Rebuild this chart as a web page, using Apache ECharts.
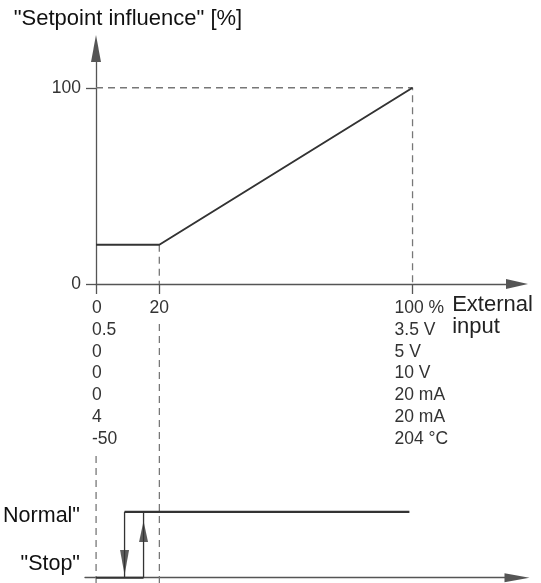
<!DOCTYPE html>
<html>
<head>
<meta charset="utf-8">
<script src="https://cdn.jsdelivr.net/npm/echarts@6/dist/echarts.min.js"></script>
<style>html,body{margin:0;padding:0;background:#fff}#c{width:541px;height:583px}</style>
</head>
<body>
<div id="c"></div>
<script>
// ---- data ----
const yAxisTitle = '"Setpoint influence" [%]';
const xAxisTitle = 'External\ninput';
const xTicks = [0, 20, 100];
const yTicks = [0, 100];
const inputCol0 = ['0', '0.5', '0', '0', '0', '4', '-50'];
const inputCol20 = ['20'];
const inputCol100 = ['100 %', '3.5 V', '5 V', '10 V', '20 mA', '20 mA', '204 °C'];
const curveX = [0, 20, 100];
const curveY = [20, 20, 100];
const stateValues = [0, 1];
const stateLabels = ['"Stop"', 'Normal"'];
const normalX = [9, 99];
const stopX = [0, 15];
const switchOffX = 9;
const switchOnX = 15;
const arrowHeadY = [0.23, 0.70];

const FONT = '"Liberation Sans", Arial, sans-serif';
const AX = '#555';
const LINE = '#333';
const DASH = '#777';
const dashStyle = { color: DASH, width: 1.3, type: [7, 5] };

const chart = echarts.init(document.getElementById('c'), null, { renderer: 'canvas' });

function colRich(arr, key) { return arr.map(s => '{' + key + '|' + s + '}').join('\n'); }

const lblBase = { fontSize: 17.5, lineHeight: 21.9, color: '#333', fontFamily: FONT };

const option = {
  animation: false,
  textStyle: { fontFamily: FONT },
  grid: [
    { left: 96, right: 24, top: 48.5, bottom: 299 },
    { left: 85, right: 24, top: 314, bottom: 0 }
  ],
  xAxis: [
    {
      gridIndex: 0, type: 'value', min: 0, max: 133,
      name: xAxisTitle, nameLocation: 'end', nameGap: -65,
      nameTextStyle: { fontSize: 22, color: '#222', align: 'left', verticalAlign: 'top', lineHeight: 22, padding: [10, 0, 0, 0], fontFamily: FONT },
      axisLine: { show: true, onZero: false, symbol: ['none', 'triangle'], symbolSize: [10, 22], lineStyle: { color: AX, width: 1.3 } },
      axisTick: { show: true, customValues: xTicks, length: 10, inside: false, lineStyle: { color: AX, width: 1.3 } },
      axisLabel: {
        show: true, customValues: xTicks, margin: 13, align: 'center', verticalAlign: 'top',
        formatter: function (v) {
          if (v === xTicks[0]) return colRich(inputCol0, 'a');
          if (v === xTicks[1]) return colRich(inputCol20, 'b');
          return colRich(inputCol100, 'c');
        },
        rich: {
          a: Object.assign({ width: 8, align: 'left' }, lblBase),
          b: Object.assign({}, lblBase),
          c: Object.assign({ width: 36, align: 'left' }, lblBase)
        }
      },
      splitLine: { show: false }
    },
    {
      gridIndex: 1, type: 'value', min: -3.5, max: 133,
      axisLine: { show: true, onZero: true, symbol: ['none', 'triangle'], symbolSize: [9, 25], lineStyle: { color: AX, width: 1.3 } },
      axisTick: { show: false }, axisLabel: { show: false }, splitLine: { show: false }
    }
  ],
  yAxis: [
    {
      gridIndex: 0, type: 'value', min: 0, max: 120,
      name: yAxisTitle, nameLocation: 'end', nameGap: 30,
      nameTextStyle: { fontSize: 22, color: '#111', align: 'center', verticalAlign: 'middle', padding: [0, 0, 0, 64], fontFamily: FONT },
      axisLine: { show: true, onZero: false, symbol: ['none', 'triangle'], symbolSize: [10, 27], lineStyle: { color: AX, width: 1.3 } },
      axisTick: { show: true, customValues: yTicks, length: 10, lineStyle: { color: AX, width: 1.3 } },
      axisLabel: { show: true, customValues: yTicks, margin: 15, fontSize: 17.5, color: '#333', fontFamily: FONT },
      splitLine: { show: false }
    },
    {
      gridIndex: 1, type: 'value', min: -0.08, max: 4,
      axisLine: { show: false }, axisTick: { show: false }, splitLine: { show: false },
      axisLabel: {
        show: true, customValues: stateValues, margin: 5,
        formatter: function (v) { return v === stateValues[0] ? '{s|' + stateLabels[0] + '}' : '{n|' + stateLabels[1] + '}'; },
        rich: {
          s: { fontSize: 21.5, color: '#111', fontFamily: FONT, padding: [0, 0, 28, 0] },
          n: { fontSize: 21.5, color: '#111', fontFamily: FONT, padding: [9, 0, 0, 0] }
        }
      }
    }
  ],
  series: [
    // guides (top)
    { type: 'line', xAxisIndex: 0, yAxisIndex: 0, symbol: 'none', silent: true, lineStyle: dashStyle, z: 1,
      data: [[curveX[0], curveY[2]], [curveX[2], curveY[2]], [curveX[2], 0]] },
    { type: 'line', xAxisIndex: 0, yAxisIndex: 0, symbol: 'none', silent: true, lineStyle: dashStyle, z: 1,
      data: [[curveX[1], curveY[1]], [curveX[1], 0]] },
    // characteristic curve
    { type: 'line', xAxisIndex: 0, yAxisIndex: 0, symbol: 'none', z: 3,
      lineStyle: { color: LINE, width: 2 },
      data: curveX.map((x, i) => [x, curveY[i]]) },
    // guides (bottom)
    { type: 'line', xAxisIndex: 1, yAxisIndex: 1, symbol: 'none', silent: true, lineStyle: dashStyle, z: 1,
      data: [[curveX[1], -0.08], [curveX[1], 3.9]] },
    { type: 'line', xAxisIndex: 1, yAxisIndex: 1, symbol: 'none', silent: true, lineStyle: dashStyle, z: 1,
      data: [[curveX[0], -0.08], [curveX[0], 1.87]] },
    // hysteresis
    { type: 'line', xAxisIndex: 1, yAxisIndex: 1, symbol: 'none', z: 3, lineStyle: { color: LINE, width: 2.2 },
      data: normalX.map(x => [x, stateValues[1]]) },
    { type: 'line', xAxisIndex: 1, yAxisIndex: 1, symbol: 'none', z: 3, lineStyle: { color: LINE, width: 2.2 },
      data: stopX.map(x => [x, stateValues[0]]) },
    { type: 'line', xAxisIndex: 1, yAxisIndex: 1, symbol: 'none', z: 3, lineStyle: { color: LINE, width: 1.3 },
      data: [[switchOffX, stateValues[1]], [switchOffX, stateValues[0]]] },
    { type: 'line', xAxisIndex: 1, yAxisIndex: 1, symbol: 'none', z: 3, lineStyle: { color: LINE, width: 1.3 },
      data: [[switchOnX, stateValues[0]], [switchOnX, stateValues[1]]] },
    { type: 'scatter', xAxisIndex: 1, yAxisIndex: 1, symbol: 'triangle', z: 4, itemStyle: { color: LINE },
      data: [
        { value: [switchOffX, arrowHeadY[0]], symbolSize: [9, 25], symbolRotate: 180 },
        { value: [switchOnX, arrowHeadY[1]], symbolSize: [9, 21], symbolRotate: 0 }
      ] }
  ]
};
chart.setOption(option);
</script>
</body>
</html>
